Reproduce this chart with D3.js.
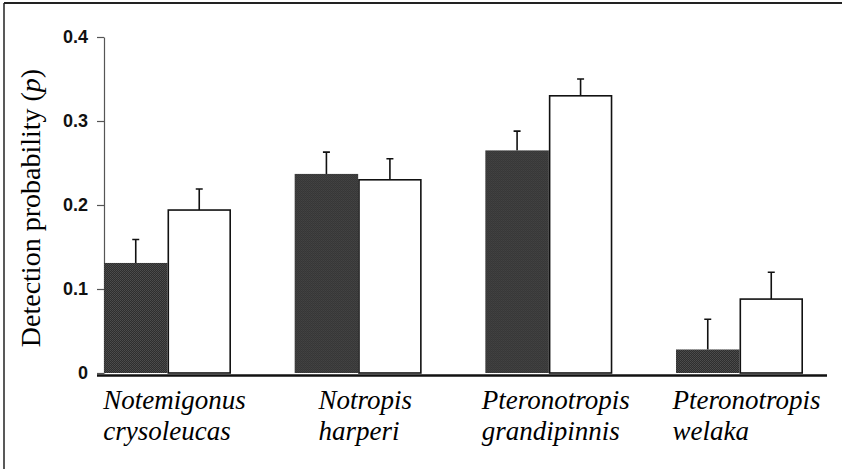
<!DOCTYPE html>
<html>
<head>
<meta charset="utf-8">
<script src="https://cdn.jsdelivr.net/npm/d3@7"></script>
<style>
  body { margin: 0; background: #fff; }
  svg { display: block; }
</style>
</head>
<body>
<div id="chart"></div>
<script>
// Species names, two lines each
const speciesLine1 = ["Notemigonus", "Notropis", "Pteronotropis", "Pteronotropis"];
const speciesLine2 = ["crysoleucas", "harperi", "grandipinnis", "welaka"];

// Detection probability, dark bars and white bars
const darkValues = [0.131, 0.237, 0.265, 0.028];
const darkErrors = [0.028, 0.026, 0.023, 0.036];
const whiteValues = [0.194, 0.230, 0.330, 0.088];
const whiteErrors = [0.025, 0.025, 0.020, 0.032];

const yTicks = [0, 0.1, 0.2, 0.3, 0.4];

const width = 842;
const height = 469;

const svg = d3.select("#chart")
  .append("svg")
    .attr("width", width)
    .attr("height", height);

// halftone-ish fill for the dark bars
const defs = svg.append("defs");
const pat = defs.append("pattern")
  .attr("id", "dots")
  .attr("width", 2)
  .attr("height", 2)
  .attr("patternUnits", "userSpaceOnUse");
pat.append("rect").attr("width", 2).attr("height", 2).attr("fill", "#2e2e2e");
pat.append("rect").attr("width", 1).attr("height", 1).attr("fill", "#4d4d4d");
pat.append("rect").attr("x", 1).attr("y", 1).attr("width", 1).attr("height", 1).attr("fill", "#474747");

// frame (top and left edges only)
svg.append("line")
  .attr("x1", 4).attr("x2", width)
  .attr("y1", 3).attr("y2", 3)
  .attr("stroke", "#222").attr("stroke-width", 2);
svg.append("line")
  .attr("x1", 4).attr("x2", 4)
  .attr("y1", 3).attr("y2", height)
  .attr("stroke", "#222").attr("stroke-width", 1.5);

// scales
const xScale = d3.scaleBand()
  .domain(d3.range(speciesLine1.length))
  .range([104, 803])
  .paddingInner(0.334)
  .paddingOuter(0);

const xInner = d3.scaleBand()
  .domain(["dark", "white"])
  .range([0, xScale.bandwidth()]);

const yScale = d3.scaleLinear()
  .domain([0, 0.4])
  .range([373, 37]);

// y axis
const yAxis = svg.append("g")
  .attr("transform", `translate(${xScale.range()[0]},0)`)
  .call(d3.axisLeft(yScale)
    .tickValues(yTicks)
    .tickSize(7)
    .tickSizeOuter(0)
    .tickPadding(9)
    .tickFormat(d => d === 0 ? "0" : d3.format(".1f")(d)));

yAxis.select(".domain").attr("stroke", "#555").attr("stroke-width", 1.2);
yAxis.selectAll(".tick line").attr("stroke", "#555").attr("stroke-width", 1.2);
yAxis.selectAll(".tick text")
  .attr("fill", "#111")
  .style("font-family", "'Liberation Sans', Arial, sans-serif")
  .style("font-weight", "bold")
  .style("font-size", "18px");

// y title
const yTitle = svg.append("text")
  .attr("transform", `translate(40,${(yScale(0) + yScale(0.4)) / 2 + 3}) rotate(-90)`)
  .attr("text-anchor", "middle")
  .attr("fill", "#000")
  .style("font-family", "'Liberation Serif', 'Times New Roman', serif")
  .style("font-size", "28px");
yTitle.append("tspan").text("Detection probability (");
yTitle.append("tspan").style("font-style", "italic").text("p");
yTitle.append("tspan").text(")");

// bars
const rows = speciesLine1.map((s, i) => ({
  i: i,
  bars: [
    { key: "dark", value: darkValues[i], err: darkErrors[i] },
    { key: "white", value: whiteValues[i], err: whiteErrors[i] }
  ]
}));

const groups = svg.selectAll(".group")
  .data(rows)
  .enter()
  .append("g")
    .attr("class", "group")
    .attr("transform", d => `translate(${xScale(d.i)},0)`);

// error bars first so the bar outline sits on top
groups.selectAll(".err")
  .data(d => d.bars)
  .enter()
  .append("path")
    .attr("class", "err")
    .attr("fill", "none")
    .attr("stroke", "#111")
    .attr("stroke-width", 1.6)
    .attr("d", d => {
      const cx = xInner(d.key) + xInner.bandwidth() / 2;
      const top = yScale(d.value + d.err);
      return `M${cx},${yScale(d.value)}V${top}M${cx - 3.5},${top}H${cx + 3.5}`;
    });

groups.selectAll(".bar")
  .data(d => d.bars)
  .enter()
  .append("rect")
    .attr("class", "bar")
    .attr("x", d => xInner(d.key) + (d.key === "white" ? 0.8 : 0))
    .attr("width", d => xInner.bandwidth() - (d.key === "white" ? 1.6 : 0))
    .attr("y", d => yScale(d.value))
    .attr("height", d => yScale(0) - yScale(d.value))
    .attr("fill", d => d.key === "dark" ? "url(#dots)" : "#fff")
    .attr("stroke", d => d.key === "dark" ? "none" : "#111")
    .attr("stroke-width", 1.6);

// baseline
svg.append("line")
  .attr("x1", xScale.range()[0] - 7)
  .attr("x2", xScale.range()[1] + 24)
  .attr("y1", yScale(0) + 2.5)
  .attr("y2", yScale(0) + 2.5)
  .attr("stroke", "#111")
  .attr("stroke-width", 2.6);

// species labels
const labels = svg.selectAll(".label")
  .data(rows)
  .enter()
  .append("text")
    .attr("class", "label")
    .attr("fill", "#000")
    .style("font-family", "'Liberation Serif', 'Times New Roman', serif")
    .style("font-style", "italic")
    .style("font-size", "27px");

labels.append("tspan")
  .attr("class", "l1")
  .attr("y", 409)
  .text(d => speciesLine1[d.i]);
labels.append("tspan")
  .attr("class", "l2")
  .attr("y", 440)
  .text(d => speciesLine2[d.i]);

// centre each two-line block under its pair of bars
labels.each(function(d) {
  const sel = d3.select(this);
  const w = Math.max(
    sel.select(".l1").node().getComputedTextLength(),
    sel.select(".l2").node().getComputedTextLength());
  const left = xScale(d.i) + xScale.bandwidth() / 2 - w / 2 + 7;
  sel.selectAll("tspan").attr("x", left);
});
</script>
</body>
</html>
